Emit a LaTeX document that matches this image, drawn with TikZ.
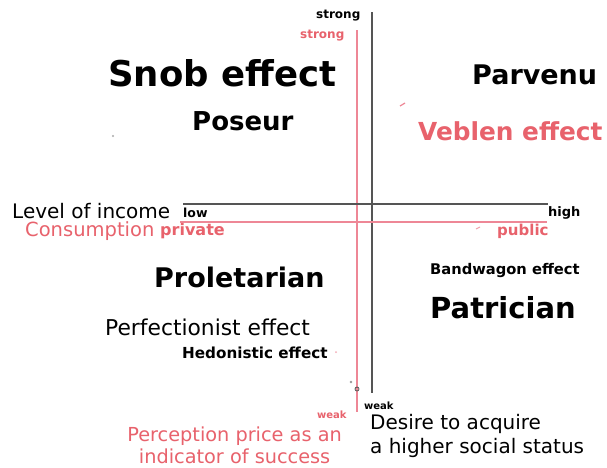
\documentclass[tikz,border=0pt]{standalone}
\usepackage{fontspec}
\setmainfont{DejaVu Sans}
\definecolor{pinktext}{RGB}{232,98,108}
\definecolor{pinkline}{RGB}{238,135,150}
\definecolor{axisgrey}{RGB}{85,85,85}
\tikzset{
  lbl/.style={inner sep=0pt, anchor=west, text=black},
  pk/.style={lbl, text=pinktext},
  axisline/.style={draw=axisgrey, line width=1.6pt},
  pinkaxis/.style={draw=pinkline, line width=1.6pt},
}
\newcommand{\fs}[1]{\fontsize{#1}{#1}\selectfont}
\begin{document}
\begin{tikzpicture}[x=1pt,y=-1pt]
\useasboundingbox (0,0) rectangle (607,467);
\fill[white] (0,0) rectangle (607,467);

% axis end points
\coordinate (vtop) at (372,12);
\coordinate (vbot) at (372,393);
\coordinate (ptop) at (357,30);
\coordinate (pbot) at (357,412);
\coordinate (hleft) at (183,204);
\coordinate (hright) at (548,204);
\coordinate (qleft) at (180,222);
\coordinate (qright) at (547,222);

\draw[axisline] (vtop) -- (vbot);
\draw[pinkaxis] (ptop) -- (pbot);
\draw[axisline] (hleft) -- (hright);
\draw[pinkaxis] (qleft) -- (qright);

% small marks
\node[circle, draw=axisgrey, line width=0.8pt, minimum size=4pt, inner sep=0pt] (ring) at (357,389) {};
\fill[axisgrey!60] (351,382) circle (1.3pt);
\fill[axisgrey!50] (113,136) circle (1.2pt);
\fill[pinkline!70] (336,352) circle (1pt);
\draw[pinkline, line width=1.2pt] (400,106) -- (405,103);
\draw[pinkline!80, line width=1pt] (476,229) -- (480,227);

% axis end labels
\node[lbl, font=\bfseries\fs{12}] (strongb) at (316,16) {strong};
\node[pk, font=\bfseries\fs{12}] (strongp) at (300,36) {strong};
\node[lbl, font=\bfseries\fs{12.5}] (low) at (183,213) {low};
\node[lbl, font=\bfseries\fs{13}] (high) at (548,213) {high};
\node[pk, font=\bfseries\fs{16}] (private) at (160,231) {private};
\node[pk, font=\bfseries\fs{15}] (public) at (497,231) {public};
\node[lbl, font=\bfseries\fs{10}] (weakb) at (364,406) {weak};
\node[pk, font=\bfseries\fs{10}] (weakp) at (317,415) {weak};

% axis titles
\node[lbl, font=\fs{20}] (income) at (12,211) {Level of income};
\node[pk, font=\fs{19.5}] (consumption) at (25,231) {Consumption};
\node[pk, font=\fs{19.3}, anchor=north east, align=center] (perception) at (342,427)
  {Perception price as an\\[2pt]indicator of success};
\node[lbl, font=\fs{20}, anchor=north west, align=left] (desire) at (370,414)
  {Desire to acquire\\[4pt]a higher social status};

% quadrant labels
\node[lbl, font=\bfseries\fs{35.5}] (snob) at (108,73) {Snob effect};
\node[lbl, font=\bfseries\fs{26}] (poseur) at (192,121) {Poseur};
\node[lbl, font=\bfseries\fs{27}] (parvenu) at (472,75) {Parvenu};
\node[pk, font=\bfseries\fs{24.8}] (veblen) at (418,131) {Veblen effect};
\node[lbl, font=\bfseries\fs{27}] (proletarian) at (154,277) {Proletarian};
\node[lbl, font=\bfseries\fs{14.7}] (bandwagon) at (430,270) {Bandwagon effect};
\node[lbl, font=\bfseries\fs{29}] (patrician) at (430,308) {Patrician};
\node[lbl, font=\fs{21.8}] (perfectionist) at (105,327) {Perfectionist effect};
\node[lbl, font=\bfseries\fs{15.2}] (hedonistic) at (182,353) {Hedonistic effect};
\end{tikzpicture}
\end{document}
